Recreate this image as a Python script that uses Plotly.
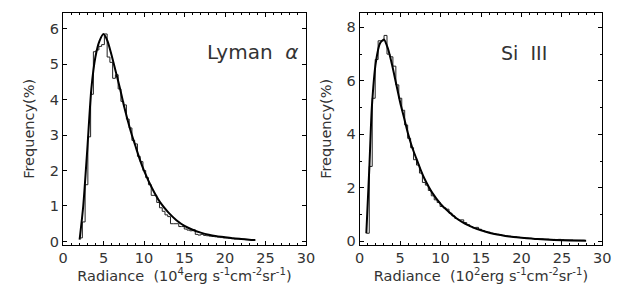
import plotly.graph_objects as go

# ---------------- data ----------------
# Lyman alpha histogram (bin width 0.34, first edge 2.05)
lya_edge0 = 2.05
lya_width = 0.34
lya_hist = [0.1, 0.55, 1.6, 2.95, 4.15, 5.35, 5.4, 5.5, 5.55, 5.85,
            5.2, 5.05, 4.6, 4.7, 4.3, 3.95, 3.85, 3.45, 3.2, 2.85,
            2.75, 2.4, 2.25, 2.0, 1.8, 1.6, 1.3, 1.3, 1.1, 0.95,
            0.85, 0.75, 0.7, 0.5, 0.5, 0.5, 0.42, 0.42, 0.35, 0.32,
            0.3, 0.33, 0.2, 0.18, 0.2, 0.17, 0.16, 0.15, 0.14, 0.13,
            0.12, 0.11, 0.10, 0.10, 0.09, 0.08, 0.07, 0.07, 0.06, 0.06,
            0.05, 0.05, 0.04, 0.04]
lya_fit_x = [2.05, 2.5, 3.0, 3.5, 4.0, 4.5, 5.0, 5.5, 6.0, 6.5, 7.0, 7.5, 8.0,
             8.5, 9.0, 9.5, 10.0, 11.0, 12.0, 13.0, 14.0, 15.0, 16.0, 17.0,
             18.0, 19.0, 20.0, 21.0, 22.0, 23.0, 23.7]
lya_fit_y = [0.05, 1.0, 2.6, 4.3, 5.2, 5.65, 5.85, 5.65, 5.25, 4.8, 4.35, 3.85,
             3.4, 3.0, 2.65, 2.3, 2.0, 1.5, 1.1, 0.82, 0.6, 0.44, 0.33, 0.25,
             0.19, 0.15, 0.12, 0.09, 0.07, 0.05, 0.04]

# Si III histogram (bin width 0.365, first edge 0.82)
si_edge0 = 0.82
si_width = 0.365
si_hist = [0.3, 2.8, 5.35, 6.8, 7.5, 7.5, 7.7, 7.0, 6.9, 6.55,
           5.85, 5.35, 4.9, 4.35, 3.85, 3.5, 3.05, 2.85, 2.55, 2.2,
           2.1, 1.9, 1.7, 1.55, 1.45, 1.3, 1.25, 1.2, 1.05, 0.95,
           0.85, 0.8, 0.8, 0.7, 0.62, 0.55, 0.5, 0.52, 0.45, 0.4,
           0.36, 0.34, 0.3, 0.28, 0.26, 0.24, 0.22, 0.2, 0.19, 0.18,
           0.17, 0.15, 0.14, 0.13, 0.12, 0.11, 0.1, 0.1, 0.09, 0.09,
           0.08, 0.08, 0.07, 0.07, 0.06, 0.07, 0.06, 0.05, 0.05, 0.05,
           0.04, 0.04, 0.04, 0.04]
si_fit_x = [0.82, 1.2, 1.5, 2.0, 2.5, 3.0, 3.5, 4.0, 4.5, 5.0, 5.5, 6.0, 6.5,
            7.0, 7.5, 8.0, 9.0, 10.0, 11.0, 12.0, 13.0, 14.0, 15.0, 16.0,
            17.0, 18.0, 19.0, 20.0, 22.0, 24.0, 26.0, 28.0]
si_fit_y = [0.3, 2.8, 5.0, 6.7, 7.4, 7.55, 7.2, 6.6, 5.9, 5.2, 4.6, 4.0, 3.5,
            3.1, 2.7, 2.35, 1.8, 1.4, 1.1, 0.85, 0.66, 0.52, 0.41, 0.32, 0.25,
            0.2, 0.16, 0.13, 0.08, 0.05, 0.03, 0.02]

x_title_lya = "Radiance  (10<sup>4</sup>erg s<sup>-1</sup>cm<sup>-2</sup>sr<sup>-1</sup>)"
x_title_si = "Radiance  (10<sup>2</sup>erg s<sup>-1</sup>cm<sup>-2</sup>sr<sup>-1</sup>)"
y_title = "Frequency(%)"
label_lya = "Lyman  <i>α</i>"
label_si = "Si  III"


def step_xy(edge0, width, vals):
    xs = [edge0 + width * i for i in range(len(vals) + 1)]
    ys = list(vals) + [vals[-1]]
    return xs, ys


TXT = "#333333"
FONT = "DejaVu Sans"
FS = 14.5

fig = go.Figure()
hx, hy = step_xy(lya_edge0, lya_width, lya_hist)
fig.add_trace(go.Scatter(x=hx, y=hy, mode="lines", line=dict(color="#222222", width=1, shape="hv"),
                         xaxis="x", yaxis="y", showlegend=False))
fig.add_trace(go.Scatter(x=lya_fit_x, y=lya_fit_y, mode="lines",
                         line=dict(color="black", width=2, shape="spline", smoothing=0.6),
                         xaxis="x", yaxis="y", showlegend=False))
hx, hy = step_xy(si_edge0, si_width, si_hist)
fig.add_trace(go.Scatter(x=hx, y=hy, mode="lines", line=dict(color="#222222", width=1, shape="hv"),
                         xaxis="x2", yaxis="y2", showlegend=False))
fig.add_trace(go.Scatter(x=si_fit_x, y=si_fit_y, mode="lines",
                         line=dict(color="black", width=2, shape="spline", smoothing=0.6),
                         xaxis="x2", yaxis="y2", showlegend=False))

W, H = 625, 291
ydom = [1 - 237 / H, 1 - 4.7 / H]

common = dict(showline=True, linecolor="black", linewidth=1, mirror="allticks",
              ticks="inside", tickcolor="black", ticklen=4, tickwidth=1,
              showgrid=False, zeroline=False, automargin=False,
              tickfont=dict(family=FONT, size=FS, color=TXT))

fig.update_layout(
    width=W, height=H, margin=dict(l=0, r=0, t=0, b=0),
    paper_bgcolor="white", plot_bgcolor="white",
    font=dict(family=FONT, color=TXT),
    xaxis=dict(domain=[55 / W, 298 / W], range=[0, 30], dtick=5, tick0=0,
               minor=dict(dtick=1, ticklen=2, ticks="inside", tickcolor="black"),
               title=dict(text=x_title_lya, font=dict(size=FS, family=FONT, color=TXT), standoff=5),
               anchor="y", **common),
    yaxis=dict(domain=ydom, range=[-0.1, 6.45], dtick=1, tick0=0,
               title=dict(text=y_title, font=dict(size=FS, family=FONT, color=TXT), standoff=11),
               anchor="x", **common),
    xaxis2=dict(domain=[351.7 / W, 594.3 / W], range=[0, 30], dtick=5, tick0=0,
                minor=dict(dtick=1, ticklen=2, ticks="inside", tickcolor="black"),
                title=dict(text=x_title_si, font=dict(size=FS, family=FONT, color=TXT), standoff=5),
                anchor="y2", **common),
    yaxis2=dict(domain=ydom, range=[-0.14, 8.55], dtick=2, tick0=0,
                minor=dict(dtick=1, ticklen=2, ticks="inside", tickcolor="black"),
                title=dict(text=y_title, font=dict(size=FS, family=FONT, color=TXT), standoff=11),
                anchor="x2", **common),
    annotations=[
        dict(text=label_lya, xref="paper", yref="paper", x=292 / W, y=1 - 44 / H,
             xanchor="right", yanchor="middle", showarrow=False,
             font=dict(family=FONT, size=20, color=TXT)),
        dict(text=label_si, xref="paper", yref="paper", x=541 / W, y=1 - 45 / H,
             xanchor="right", yanchor="middle", showarrow=False,
             font=dict(family=FONT, size=19, color=TXT)),
    ],
)

fig.write_html("out.html")
